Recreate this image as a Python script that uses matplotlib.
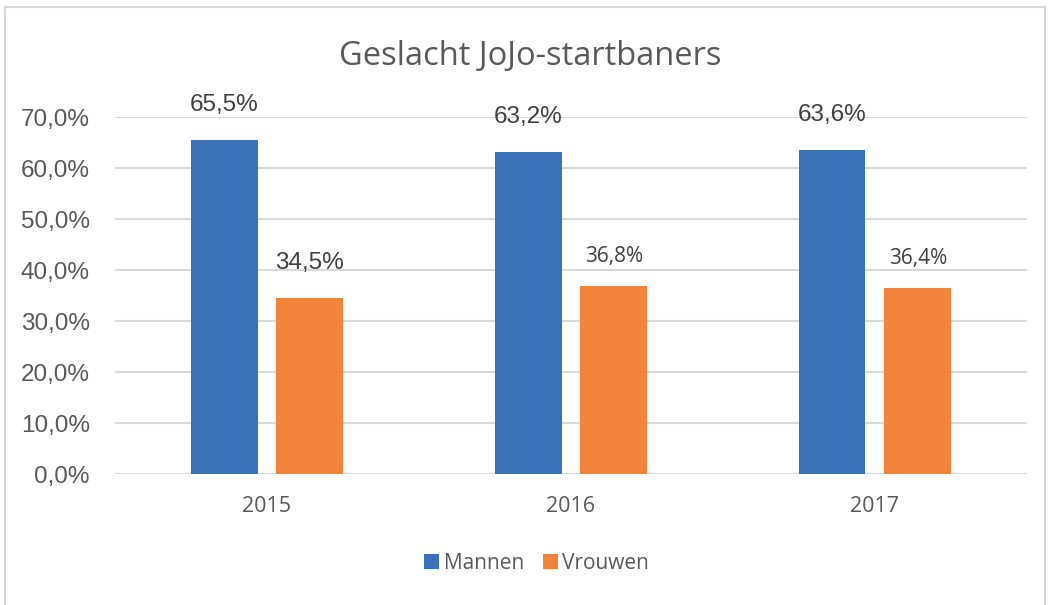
import matplotlib.pyplot as plt
import numpy as np
from matplotlib.patches import Rectangle

years = ["2015", "2016", "2017"]
mannen = [65.5, 63.2, 63.6]
vrouwen = [34.5, 36.8, 36.4]
mannen_labels = ["65,5%", "63,2%", "63,6%"]
vrouwen_labels = ["34,5%", "36,8%", "36,4%"]
yticks = [0, 10, 20, 30, 40, 50, 60, 70]

BLUE = "#3C72B9"
ORANGE = "#F2833B"
TEXT = "#595959"

fig = plt.figure(figsize=(10.5, 6.05), dpi=100)
ax = fig.add_axes([0.1095, 0.2165, 0.8685, 0.59])

x = np.arange(len(years))
width = 0.22
gap = 0.031
ax.bar(x - width / 2 - gap, mannen, width, color=BLUE, label="Mannen", zorder=3)
ax.bar(x + width / 2 + gap, vrouwen, width, color=ORANGE, label="Vrouwen", zorder=3)

for i in range(len(years)):
    ax.annotate(mannen_labels[i], (x[i] - width / 2 - gap, mannen[i]),
                xytext=(0, 17), textcoords="offset points", ha="center", va="bottom",
                fontsize=17.5, color="#404040", family="Liberation Sans")
    ax.annotate(vrouwen_labels[i], (x[i] + width / 2 + gap, vrouwen[i]),
                xytext=(0, 17 if i == 0 else 14), textcoords="offset points",
                ha="center", va="bottom",
                fontsize=17.5 if i == 0 else 15, color="#404040",
                family="Liberation Sans" if i == 0 else "Open Sans")

ax.set_xlim(-0.5, 2.5)
ax.set_ylim(0, 70)
ax.set_yticks(yticks)
ax.set_yticklabels([f"{v},0%" for v in yticks], fontsize=17.5, color=TEXT,
                   family="Liberation Sans")
ax.set_xticks(x)
ax.set_xticklabels(years, fontsize=15.5, color=TEXT, family="Open Sans")
ax.tick_params(axis="both", length=0)
ax.tick_params(axis="x", pad=16)
ax.tick_params(axis="y", pad=18)
ax.grid(axis="y", color="#D9D9D9", linewidth=1.5, zorder=0)
for s in ax.spines.values():
    s.set_visible(False)

fig.text(0.505, 0.906, "Geslacht JoJo-startbaners", ha="center", va="center",
         fontsize=23.5, color=TEXT, family="Open Sans")

leg = fig.legend(loc="center", bbox_to_anchor=(0.511, 0.069), ncol=2, frameon=False,
                 prop={"family": "Open Sans", "size": 15}, handlelength=0.75,
                 handleheight=0.75, handletextpad=0.2, columnspacing=0.9)
for t in leg.get_texts():
    t.set_color(TEXT)

fig.patches.append(Rectangle((0.005, -0.01), 0.99, 0.998, transform=fig.transFigure,
                             fill=False, edgecolor="#D9D9D9", linewidth=1.5))

fig.savefig("out.png", dpi=100, facecolor="white")
